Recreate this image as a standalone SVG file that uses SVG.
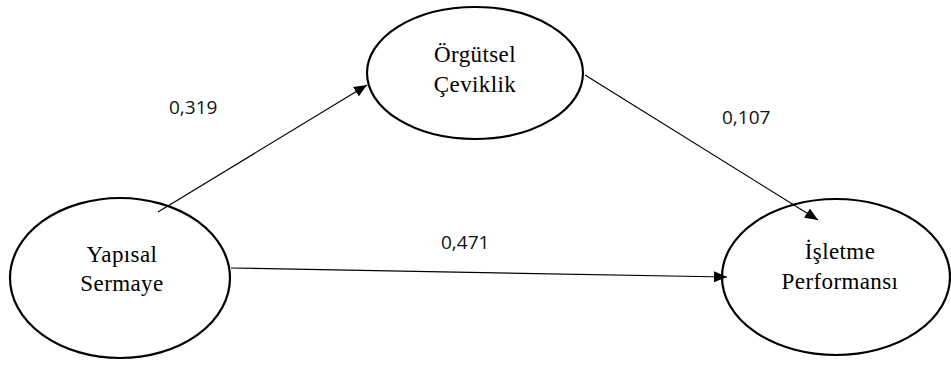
<svg xmlns="http://www.w3.org/2000/svg" width="951" height="365" viewBox="0 0 951 365">
<style>
.node{fill:#fff;stroke:#000;stroke-width:2.2}
.nt{font-family:"Liberation Serif","Times New Roman",serif;font-size:23px;letter-spacing:0.4px;fill:#000;text-anchor:middle}
.lbl{font-family:"Open Sans","Liberation Sans",sans-serif;font-size:19px;fill:#111}
.edge{stroke:#000;stroke-width:1.2;fill:none;marker-end:url(#ah)}
</style>
<defs>
<marker id="ah" markerWidth="13" markerHeight="11" refX="13" refY="5.5" orient="auto" markerUnits="userSpaceOnUse">
<path d="M0,0 L13,5.5 L0,11 Z" fill="#000"/>
</marker>
</defs>
<rect width="951" height="365" fill="#fff"/>
<g id="n-yapisal">
<ellipse class="node" cx="120" cy="278" rx="110" ry="80"/>
<text class="nt" x="122" y="262">Yapısal</text>
<text class="nt" x="122" y="291">Sermaye</text>
</g>
<g id="n-orgutsel">
<ellipse class="node" cx="475" cy="73" rx="108" ry="66"/>
<text class="nt" x="475" y="62">Örgütsel</text>
<text class="nt" x="475" y="92">Çeviklik</text>
</g>
<g id="n-isletme">
<ellipse class="node" cx="836" cy="277" rx="114" ry="78"/>
<text class="nt" x="840" y="259">İşletme</text>
<text class="nt" x="840" y="289">Performansı</text>
</g>
<g id="edges">
<line class="edge" x1="158" y1="212" x2="367" y2="85"/>
<line class="edge" x1="585" y1="75" x2="818" y2="220"/>
<line class="edge" x1="231" y1="268" x2="727" y2="277"/>
</g>
<g id="labels">
<text class="lbl" x="169" y="114">0,319</text>
<text class="lbl" x="722" y="124">0,107</text>
<text class="lbl" x="441" y="249">0,471</text>
</g>
</svg>
